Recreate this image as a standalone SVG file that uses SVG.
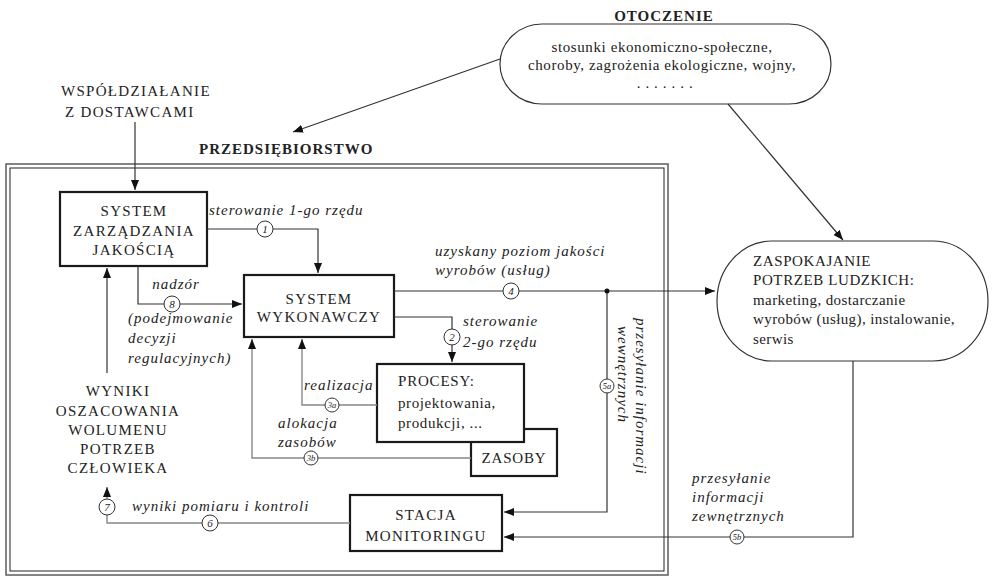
<svg xmlns="http://www.w3.org/2000/svg" width="992" height="577" viewBox="0 0 992 577">
<defs>
<marker id="ah" markerUnits="userSpaceOnUse" markerWidth="10" markerHeight="8" refX="10" refY="4" orient="auto">
<path d="M0,0 L10,4 L0,8 z" fill="#111"/>
</marker>
<style>
.bg{fill:#fff}
.box{fill:#fff;stroke:#1a1a1a;stroke-width:2.2}
.oval{fill:#fff;stroke:#333;stroke-width:1.2}
.t{font-family:"Liberation Serif",serif;font-size:15px;fill:#222;letter-spacing:1.3px}
.tc{text-anchor:middle}
.b{font-weight:bold;letter-spacing:1px}
.i{font-style:italic;letter-spacing:1px}
.ln{fill:none;stroke:#333;stroke-width:1.2}
.lg{fill:none;stroke:#888;stroke-width:1.4}
.cc{fill:#fff;stroke:#333;stroke-width:1}
.cn{font-family:"Liberation Serif",serif;font-style:italic;font-size:11px;fill:#222;text-anchor:middle}
.cs{font-size:8.5px}
</style>
</defs>
<rect class="bg" x="0" y="0" width="992" height="577"/>

<g id="przedsiebiorstwo">
<rect x="6" y="164" width="662" height="411" fill="none" stroke="#666" stroke-width="1.6"/>
<rect x="10" y="168" width="654" height="403" fill="none" stroke="#222" stroke-width="1"/>
<text class="t b" x="199" y="154">PRZEDSIĘBIORSTWO</text>
</g>

<g id="wspoldzialanie">
<text class="t" x="61" y="96">WSPÓŁDZIAŁANIE</text>
<text class="t" x="65" y="117">Z DOSTAWCAMI</text>
</g>

<g id="otoczenie">
<text class="t b tc" x="664" y="21">OTOCZENIE</text>
<rect class="oval" x="500" y="24" width="331" height="80" rx="42" ry="40"/>
<text class="t tc" x="662" y="52" style="letter-spacing:0.6px">stosunki ekonomiczno-społeczne,</text>
<text class="t tc" x="662" y="70" style="letter-spacing:0.6px">choroby, zagrożenia ekologiczne, wojny,</text>
<text class="t tc" x="665" y="88" style="letter-spacing:0.6px">. . . . . . .</text>
</g>

<g id="zaspokajanie">
<rect class="oval" x="717" y="241" width="271" height="120" rx="55" ry="60"/>
<text class="t" x="753" y="266" style="letter-spacing:0.6px">ZASPOKAJANIE</text>
<text class="t" x="753" y="285" style="letter-spacing:0.6px">POTRZEB LUDZKICH:</text>
<text class="t" x="753" y="305" style="letter-spacing:0.4px">marketing, dostarczanie</text>
<text class="t" x="753" y="324" style="letter-spacing:0.4px">wyrobów (usług), instalowanie,</text>
<text class="t" x="753" y="344" style="letter-spacing:0.4px">serwis</text>
</g>

<g id="szj">
<rect class="box" x="60" y="192" width="147" height="74"/>
<text class="t tc" x="134" y="216">SYSTEM</text>
<text class="t tc" x="134" y="236">ZARZĄDZANIA</text>
<text class="t tc" x="134" y="255">JAKOŚCIĄ</text>
</g>

<g id="sw">
<rect class="box" x="244" y="275" width="150" height="62"/>
<text class="t tc" x="319" y="304">SYSTEM</text>
<text class="t tc" x="319" y="322">WYKONAWCZY</text>
</g>

<g id="zasoby">
<rect class="box" x="471" y="429" width="86" height="47"/>
<text class="t tc" x="514" y="463" style="letter-spacing:0.8px">ZASOBY</text>
</g>

<g id="procesy">
<rect class="box" x="377" y="364" width="147" height="78"/>
<text class="t" x="398" y="386" style="letter-spacing:0.8px">PROCESY:</text>
<text class="t" x="398" y="408" style="letter-spacing:0.6px">projektowania,</text>
<text class="t" x="398" y="428" style="letter-spacing:0.6px">produkcji, ...</text>
</g>

<g id="stacja">
<rect class="box" x="350" y="495" width="152" height="56"/>
<text class="t tc" x="426" y="520">STACJA</text>
<text class="t tc" x="426" y="541">MONITORINGU</text>
</g>

<g id="wyniki">
<text class="t tc" x="118" y="396">WYNIKI</text>
<text class="t tc" x="118" y="416">OSZACOWANIA</text>
<text class="t tc" x="118" y="435">WOLUMENU</text>
<text class="t tc" x="118" y="454">POTRZEB</text>
<text class="t tc" x="118" y="473">CZŁOWIEKA</text>
</g>

<g id="connectors">
<path class="ln" d="M135,122 V190" marker-end="url(#ah)"/>
<path class="ln" d="M500,59 L293,132" marker-end="url(#ah)"/>
<path class="ln" d="M728,104 L843,240" marker-end="url(#ah)"/>
<path class="ln" d="M207,229 H318 V273" marker-end="url(#ah)"/>
<path class="ln" d="M138,266 V304 H242" marker-end="url(#ah)"/>
<path class="ln" d="M107,373 V268" marker-end="url(#ah)"/>
<path class="ln" d="M394,291 H715" marker-end="url(#ah)"/>
<path class="ln" d="M394,317 H452 V362" marker-end="url(#ah)"/>
<path class="lg" d="M377,405 H302 V339" marker-end="url(#ah)"/>
<path class="lg" d="M471,458 H252 V339" marker-end="url(#ah)"/>
<path class="ln" d="M607,291 V512 H504" marker-end="url(#ah)"/>
<path class="ln" d="M853,361 V537 H504" marker-end="url(#ah)"/>
<path class="lg" d="M350,523 H107 V487" marker-end="url(#ah)"/>
<circle cx="607" cy="291" r="2.5" fill="#111"/>

<circle class="cc" cx="265" cy="229" r="8"/><text class="cn" x="265" y="233">1</text>
<circle class="cc" cx="172" cy="304" r="8"/><text class="cn" x="172" y="308">8</text>
<circle class="cc" cx="511" cy="291" r="8"/><text class="cn" x="511" y="295">4</text>
<circle class="cc" cx="452" cy="337" r="8"/><text class="cn" x="452" y="341">2</text>
<circle class="cc" cx="332" cy="405" r="7"/><text class="cn cs" x="332" y="408">3a</text>
<circle class="cc" cx="311" cy="458" r="7"/><text class="cn cs" x="311" y="461">3b</text>
<circle class="cc" cx="607" cy="386" r="7"/><text class="cn cs" x="607" y="389">5a</text>
<circle class="cc" cx="737" cy="537" r="7"/><text class="cn cs" x="737" y="540">5b</text>
<circle class="cc" cx="210" cy="523" r="8"/><text class="cn" x="210" y="527">6</text>
<circle class="cc" cx="107" cy="507" r="8"/><text class="cn" x="107" y="511">7</text>

<text class="t i" x="209" y="215">sterowanie 1-go rzędu</text>
<text class="t i tc" x="176" y="289">nadzór</text>
<text class="t i" x="128" y="323">(podejmowanie</text>
<text class="t i" x="128" y="343">decyzji</text>
<text class="t i" x="128" y="363">regulacyjnych)</text>
<text class="t i" x="435" y="256">uzyskany poziom jakości</text>
<text class="t i" x="435" y="275">wyrobów (usług)</text>
<text class="t i" x="463" y="326">sterowanie</text>
<text class="t i" x="463" y="347">2-go rzędu</text>
<text class="t i" x="304" y="390">realizacja</text>
<text class="t i" x="278" y="428">alokacja</text>
<text class="t i" x="278" y="447">zasobów</text>
<text class="t i" transform="translate(636,318) rotate(90)">przesyłanie informacji</text>
<text class="t i" transform="translate(618,326) rotate(90)">wewnętrznych</text>
<text class="t i" x="132" y="511">wyniki pomiaru i kontroli</text>
<text class="t i" x="692" y="483">przesyłanie</text>
<text class="t i" x="692" y="502">informacji</text>
<text class="t i" x="692" y="521">zewnętrznych</text>
</g>
</svg>
